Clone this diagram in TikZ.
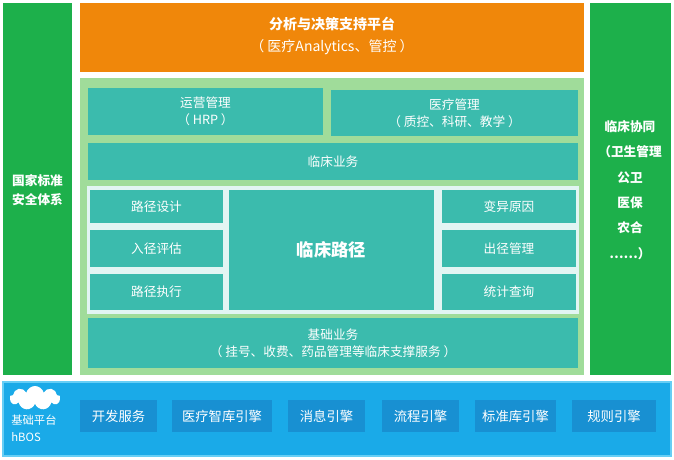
\documentclass[tikz,border=0pt]{standalone}
\usepackage{fontspec}
\setmainfont{Noto Sans CJK SC}
\usetikzlibrary{shapes.symbols}
\definecolor{gbar}{HTML}{1DB04B}
\definecolor{orng}{HTML}{F0870A}
\definecolor{lgrn}{HTML}{A0DC9A}
\definecolor{teal}{HTML}{3BBBAD}
\definecolor{blu}{HTML}{1AAAE8}
\definecolor{dblu}{HTML}{1890D2}
\tikzset{
 box/.style={fill=teal,draw=none,text=white,align=center,font=\fontsize{9.5}{13}\selectfont},
 eng/.style={fill=dblu,draw=none,text=white,font=\fontsize{10}{12}\selectfont},
}
\begin{document}
\begin{tikzpicture}[x=0.75pt,y=-0.75pt]
\useasboundingbox[fill=white] (0,0) rectangle (674,460);
\fill[gbar] (3,3) rectangle (72,375);
\fill[gbar] (590,3) rectangle (671,375);
\node[text=white,align=center,font=\bfseries\fontsize{9.5}{14}\selectfont] (l) at (37.5,190) {国家标准\\安全体系};
\node[text=white,align=center,font=\bfseries\fontsize{9.5}{19}\selectfont] (r) at (630,190) {临床协同\\（卫生管理\\公卫\\医保\\农合\\……）};
\fill[orng] (80,3) rectangle (584,72);
\node[text=white,align=center,font=\fontsize{10.5}{16}\selectfont] (t) at (332,36) {\textbf{分析与决策支持平台}\\（ 医疗Analytics、管控 ）};
\fill[lgrn] (80,78) rectangle (584,375);
\node[box,minimum width=235*0.75pt,minimum height=47*0.75pt] (yy) at (205.5,111.5) {运营管理\\（ HRP ）};
\node[box,minimum width=247*0.75pt,minimum height=46*0.75pt] (yl) at (454.5,113) {医疗管理\\（ 质控、科研、教学 ）};
\node[box,minimum width=490*0.75pt,minimum height=37*0.75pt] (lc) at (333,161.5) {临床业务};
\fill[teal!15!white] (87,186) rectangle (579,314);
\node[box,minimum width=133*0.75pt,minimum height=33*0.75pt] (a1) at (156.5,206.5) {路径设计};
\node[box,minimum width=133*0.75pt,minimum height=37*0.75pt] (a2) at (156.5,248.5) {入径评估};
\node[box,minimum width=133*0.75pt,minimum height=36*0.75pt] (a3) at (156.5,292) {路径执行};
\node[box,minimum width=205*0.75pt,minimum height=120*0.75pt,font=\bfseries\fontsize{13}{16}\selectfont] (c) at (331.5,250) {临床路径};
\node[box,minimum width=134*0.75pt,minimum height=33*0.75pt] (b1) at (509,206.5) {变异原因};
\node[box,minimum width=134*0.75pt,minimum height=37*0.75pt] (b2) at (509,248.5) {出径管理};
\node[box,minimum width=134*0.75pt,minimum height=36*0.75pt] (b3) at (509,292) {统计查询};
\node[box,minimum width=490*0.75pt,minimum height=50*0.75pt] (jc) at (333,343) {基础业务\\（ 挂号、收费、药品管理等临床支撑服务 ）};
\fill[blu,draw=cyan!60!white,line width=1pt] (3,382) rectangle (671,456);
\node[cloud,cloud puffs=9,fill=white,draw=none,minimum width=38pt,minimum height=18pt,inner sep=0pt] (cl) at (35,398) {};
\node[text=white,align=left,font=\fontsize{8.5}{13}\selectfont] (hb) at (34,428) {基础平台\\hBOS};
\node[eng,minimum width=77*0.75pt,minimum height=32*0.75pt] (e1) at (118.5,416) {开发服务};
\node[eng,minimum width=100*0.75pt,minimum height=32*0.75pt] (e2) at (222,416) {医疗智库引擎};
\node[eng,minimum width=77*0.75pt,minimum height=32*0.75pt] (e3) at (326.5,416) {消息引擎};
\node[eng,minimum width=77*0.75pt,minimum height=32*0.75pt] (e4) at (420.5,416) {流程引擎};
\node[eng,minimum width=81*0.75pt,minimum height=32*0.75pt] (e5) at (515.5,416) {标准库引擎};
\node[eng,minimum width=84*0.75pt,minimum height=32*0.75pt] (e6) at (614,416) {规则引擎};
\end{tikzpicture}
\end{document}
